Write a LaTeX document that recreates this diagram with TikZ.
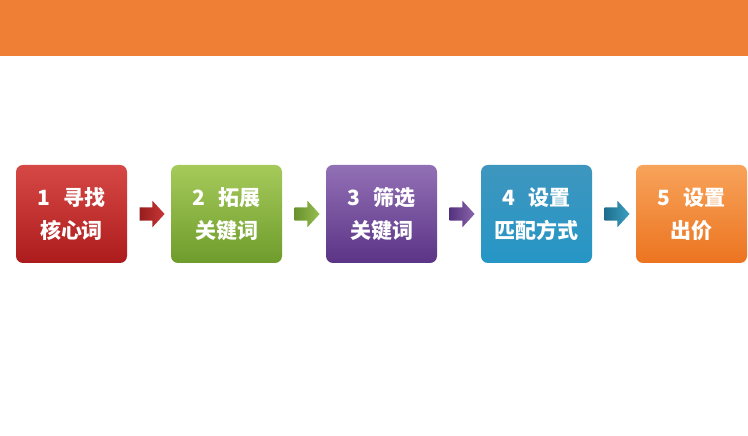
\documentclass[tikz,border=0pt]{standalone}
\usepackage{fontspec}
\newfontfamily\cjk{Noto Sans CJK SC}
\usetikzlibrary{shapes.arrows,calc}

\definecolor{barorange}{HTML}{EE7F35}

\begin{document}
\begin{tikzpicture}[x=1pt,y=1pt]
	\tikzstyle{stepbox} = [rectangle, rounded corners=7pt, minimum width=111pt, minimum height=98pt, inner sep=0pt, align=center, text=white, font=\cjk\bfseries\fontsize{21}{33}\selectfont]
	\tikzstyle{flow} = [single arrow, inner xsep=0pt, inner ysep=6.5pt, minimum height=25pt, single arrow head extend=6.5pt, single arrow tip angle=95]
	\useasboundingbox (0,0) rectangle (748,436);
	\fill[barorange] (0,380) rectangle (748,436);
	
	\node[stepbox, top color={rgb,255:red,214;green,72;blue,70}, bottom color={rgb,255:red,172;green,28;blue,28}] (Find) at (71.5,222) {1\hspace{0.6em}寻找\\核心词};
	\node[stepbox, top color={rgb,255:red,165;green,202;blue,90}, bottom color={rgb,255:red,110;green,156;blue,44}] (Expand) at (226.5,222) {2\hspace{0.6em}拓展\\关键词};
	\node[stepbox, top color={rgb,255:red,146;green,112;blue,181}, bottom color={rgb,255:red,91;green,52;blue,134}] (Filter) at (381.5,222) {3\hspace{0.6em}筛选\\关键词};
	\node[stepbox, top color={rgb,255:red,62;green,150;blue,190}, middle color={rgb,255:red,32;green,108;blue,140}, bottom color={rgb,255:red,38;green,150;blue,198}] (Match) at (536.5,222) {4\hspace{0.6em}设置\\匹配方式};
	\node[stepbox, top color={rgb,255:red,247;green,163;blue,90}, bottom color={rgb,255:red,236;green,116;blue,32}] (Bid) at (691.5,222) {5\hspace{0.6em}设置\\出价};
	
	\node[flow, left color={rgb,255:red,150;green,30;blue,30}, right color={rgb,255:red,200;green,55;blue,52}] (A1) at ($(Find.east)!0.5!(Expand.west)$) {};
	\node[flow, left color={rgb,255:red,105;green,145;blue,45}, right color={rgb,255:red,150;green,190;blue,80}] (A2) at ($(Expand.east)!0.5!(Filter.west)$) {};
	\node[flow, left color={rgb,255:red,85;green,50;blue,125}, right color={rgb,255:red,135;green,100;blue,170}] (A3) at ($(Filter.east)!0.5!(Match.west)$) {};
	\node[flow, left color={rgb,255:red,30;green,110;blue,140}, right color={rgb,255:red,60;green,160;blue,195}] (A4) at ($(Match.east)!0.5!(Bid.west)$) {};
	
\end{tikzpicture}
\end{document}
